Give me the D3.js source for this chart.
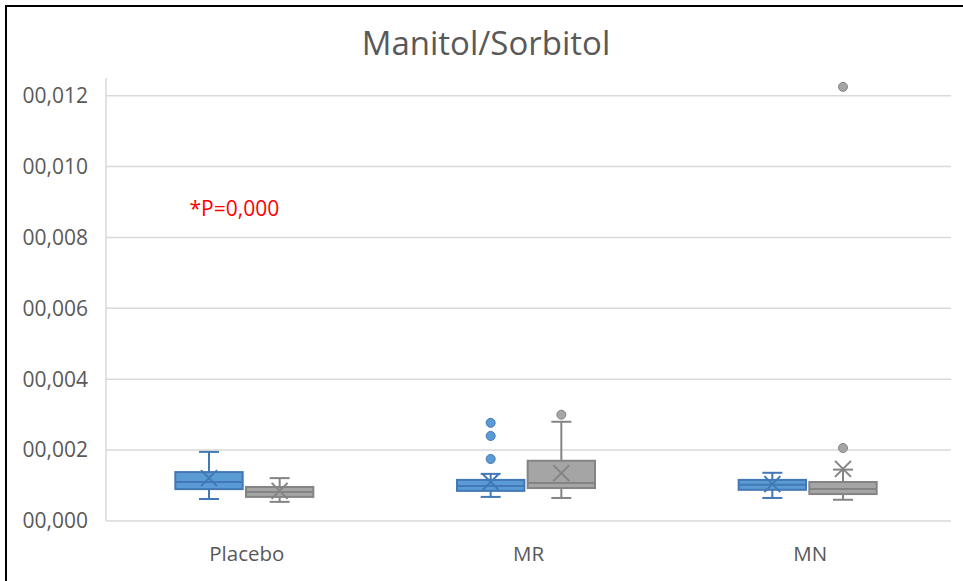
<!DOCTYPE html>
<html>
<head>
<meta charset="utf-8">
<script src="https://cdn.jsdelivr.net/npm/d3@7"></script>
<style>
  body { margin: 0; background: #fff; }
  text { font-family: "Open Sans", "Noto Sans", sans-serif; }
</style>
</head>
<body>
<div id="chart"></div>
<script>
// Categories and series
const categories = ['Placebo', 'MR', 'MN'];
const seriesNames = ['Serie 1', 'Serie 2'];

// Box stats per category: [whisker low, q1, median, q3, whisker high]
const blueBoxes = [
  [0.00062, 0.00090, 0.00110, 0.00138, 0.00195],
  [0.00068, 0.00085, 0.00099, 0.00116, 0.00133],
  [0.00065, 0.00088, 0.00102, 0.00116, 0.00136]
];
const blueMeans = [0.00121, 0.00110, 0.00104];
const blueOutliers = [[], [0.00175, 0.00240, 0.00277], []];

const grayBoxes = [
  [0.00054, 0.00068, 0.00082, 0.00096, 0.00121],
  [0.00065, 0.00093, 0.00107, 0.00170, 0.00280],
  [0.00060, 0.00076, 0.00090, 0.00110, 0.00145]
];
const grayMeans = [0.00085, 0.00135, 0.00147];
const grayOutliers = [[], [0.00300], [0.00206, 0.01225]];

const yTicks = [0, 0.002, 0.004, 0.006, 0.008, 0.010, 0.012];
const pLabel = '*P=0,000';

const width = 963, height = 581;
const margin = {top: 78, right: 12, bottom: 60, left: 106};

const svg = d3.select('#chart').append('svg')
    .attr('width', width)
    .attr('height', height);

// chart border (top and left visible)
svg.append('rect')
    .attr('x', 6).attr('y', 6)
    .attr('width', 1200).attr('height', 1200)
    .attr('fill', 'none')
    .attr('stroke', '#000')
    .attr('stroke-width', 2);

const plotRight = width - margin.right;
const plotBottom = height - margin.bottom;

const y = d3.scaleLinear()
    .domain([0, 0.0125])
    .range([plotBottom, margin.top]);

const x0 = d3.scaleBand()
    .domain(categories)
    .range([margin.left - 2.5, plotRight - 2.5]);

const x1 = d3.scaleBand()
    .domain(seriesNames)
    .range([x0.bandwidth() * 0.255, x0.bandwidth() * 0.745])
    .paddingInner(0.047);

// gridlines
svg.append('g')
  .selectAll('line')
  .data(yTicks)
  .join('line')
    .attr('x1', margin.left)
    .attr('x2', plotRight)
    .attr('y1', d => y(d))
    .attr('y2', d => y(d))
    .attr('stroke', '#d9d9d9')
    .attr('stroke-width', 1.5);

// vertical axis line
svg.append('line')
    .attr('x1', margin.left).attr('x2', margin.left)
    .attr('y1', margin.top).attr('y2', plotBottom)
    .attr('stroke', '#d9d9d9')
    .attr('stroke-width', 1.5);

// y tick labels
const fmt = d => '00,' + d3.format('.3f')(d).split('.')[1];
svg.append('g')
  .selectAll('text')
  .data(yTicks)
  .join('text')
    .attr('x', margin.left - 18)
    .attr('y', d => y(d))
    .attr('dy', '0.35em')
    .attr('text-anchor', 'end')
    .attr('font-size', 21)
    .attr('fill', '#595959')
    .text(fmt);

// category labels
svg.append('g')
  .selectAll('text')
  .data(categories)
  .join('text')
    .attr('x', d => x0(d) + x0.bandwidth() / 2 + 2.5)
    .attr('y', plotBottom + 40)
    .attr('text-anchor', 'middle')
    .attr('font-size', 20.5)
    .attr('fill', '#595959')
    .text(d => d);

// title
svg.append('text')
    .attr('x', 486)
    .attr('y', 55)
    .attr('text-anchor', 'middle')
    .attr('font-size', 33)
    .attr('fill', '#595959')
    .text('Manitol/Sorbitol');

// build series
const series = [
  {name: seriesNames[0], boxes: blueBoxes, means: blueMeans, outliers: blueOutliers, fill: '#5b9bd5', stroke: '#4178b5'},
  {name: seriesNames[1], boxes: grayBoxes, means: grayMeans, outliers: grayOutliers, fill: '#a5a5a5', stroke: '#848484'}
];

const capHalf = 10;
const xHalf = 8;

series.forEach(s => {
  const g = svg.append('g');
  categories.forEach((c, i) => {
    const b = s.boxes[i];
    const left = x0(c) + x1(s.name);
    const bw = x1.bandwidth();
    const cx = left + bw / 2;

    // whiskers
    g.append('line')
        .attr('x1', cx).attr('x2', cx)
        .attr('y1', y(b[0])).attr('y2', y(b[1]))
        .attr('stroke', s.stroke).attr('stroke-width', 2);
    g.append('line')
        .attr('x1', cx).attr('x2', cx)
        .attr('y1', y(b[3])).attr('y2', y(b[4]))
        .attr('stroke', s.stroke).attr('stroke-width', 2);
    [b[0], b[4]].forEach(v => {
      g.append('line')
          .attr('x1', cx - capHalf).attr('x2', cx + capHalf)
          .attr('y1', y(v)).attr('y2', y(v))
          .attr('stroke', s.stroke).attr('stroke-width', 2);
    });

    // box
    g.append('rect')
        .attr('x', left)
        .attr('y', y(b[3]))
        .attr('width', bw)
        .attr('height', y(b[1]) - y(b[3]))
        .attr('fill', s.fill)
        .attr('stroke', s.stroke)
        .attr('stroke-width', 2);

    // median
    g.append('line')
        .attr('x1', left).attr('x2', left + bw)
        .attr('y1', y(b[2])).attr('y2', y(b[2]))
        .attr('stroke', s.stroke).attr('stroke-width', 2);

    // mean marker (X)
    const my = y(s.means[i]);
    g.append('path')
        .attr('d', `M${cx - xHalf},${my - xHalf}L${cx + xHalf},${my + xHalf}M${cx - xHalf},${my + xHalf}L${cx + xHalf},${my - xHalf}`)
        .attr('stroke', s.stroke)
        .attr('stroke-width', 2)
        .attr('fill', 'none');

    // outliers
    g.selectAll(null)
      .data(s.outliers[i])
      .join('circle')
        .attr('cx', cx)
        .attr('cy', d => y(d))
        .attr('r', 4.5)
        .attr('fill', s.fill)
        .attr('stroke', s.stroke)
        .attr('stroke-width', 1);
  });
});

// significance annotation
svg.append('text')
    .attr('x', x0('Placebo') + 86)
    .attr('y', y(0.0088))
    .attr('dy', '0.35em')
    .attr('font-size', 21)
    .attr('fill', '#ff0000')
    .text(pLabel);
</script>
</body>
</html>
